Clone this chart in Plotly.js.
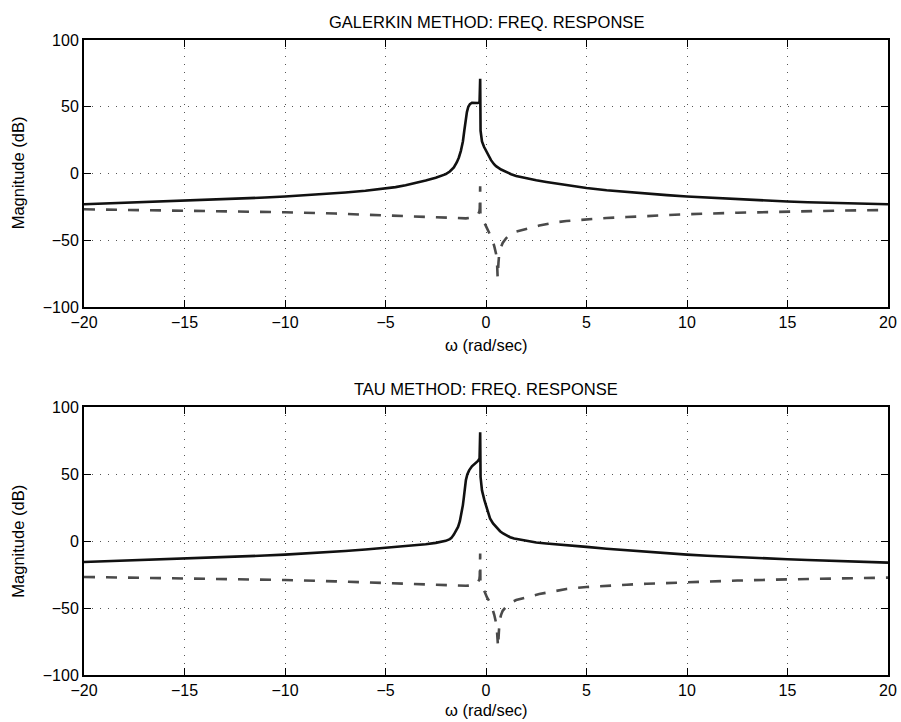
<!DOCTYPE html>
<html>
<head>
<meta charset="utf-8">
<script src="https://cdn.plot.ly/plotly-3.0.1.min.js"></script>
<style>html,body{margin:0;padding:0;background:#fff;}#chart{width:901px;height:722px;}</style>
</head>
<body>
<div id="chart"></div>
<script>
// Galerkin method
const galSolidW = [-20,-19,-18,-17,-16,-15,-14,-13,-12,-11,-10,-9,-8,-7,-6,-5,-4.5,-4,-3.5,-3,-2.5,-2,-1.8,-1.6,-1.45,-1.35,-1.25,-1.15,-1.08,-1.02,-0.95,-0.88,-0.8,-0.7,-0.6,-0.5,-0.4,-0.32,-0.30,-0.29,-0.27,-0.24,-0.2,-0.1,0,0.1,0.25,0.4,0.5,0.75,1,1.25,1.5,2,2.5,3,3.5,4,4.5,5,6,7,8,9,10,11,12,13,14,15,16,17,18,19,20];
const galSolidDB = [-23,-22.5,-22,-21.5,-21,-20.5,-19.9,-19.3,-18.7,-18,-17.2,-16.3,-15.3,-14.2,-12.9,-11.3,-10.2,-8.8,-7.2,-5.3,-3.2,-0.5,1.5,4.5,8.5,12,17,24,32,40,46,50,52,53,53,52.6,52.8,53.5,71,71,32,27,24,20,17,14,10,7,5.5,3,1,-0.5,-1.8,-3.6,-5.1,-6.4,-7.6,-8.7,-9.8,-10.9,-12.6,-13.9,-15.1,-16.2,-17.2,-18,-18.9,-19.6,-20.3,-21,-21.5,-22,-22.4,-22.7,-23];
const galDashW = [-20,-17.5,-15,-12.5,-10,-7.5,-5,-4,-3,-2,-1.5,-1,-0.7,-0.5,-0.4,-0.33,-0.31,-0.30,-0.29,-0.28,-0.2,-0.08,0.05,0.17,0.3,0.41,0.5,0.55,0.58,0.62,0.66,0.75,0.83,1.0,1.16,1.5,1.82,2.25,2.65,3.48,4,5,6,7,8,10,12.5,15,17.5,20];
const galDashDB = [-26.8,-27.3,-27.8,-28.4,-29,-30,-31.3,-32,-32.7,-33.3,-33.6,-33.6,-33,-32,-30.7,-28.5,-26,-9.5,-9.5,-30,-33,-37,-41,-44.4,-49,-54.4,-60,-67,-78,-67,-59.4,-55,-52,-48.5,-46.2,-43.5,-42,-40.5,-39,-36.5,-35.6,-34.3,-33.3,-32.6,-31.8,-30.5,-29.4,-28.5,-27.8,-27.3];

// Tau method
const tauSolidW = [-20,-19,-18,-17,-16,-15,-14,-13,-12,-11,-10,-9,-8,-7,-6,-5,-4,-3,-2.5,-2,-1.8,-1.72,-1.6,-1.5,-1.39,-1.3,-1.22,-1.15,-1.1,-1.05,-1.0,-0.93,-0.84,-0.7,-0.55,-0.4,-0.32,-0.30,-0.29,-0.27,-0.2,-0.08,0.1,0.2,0.35,0.5,0.7,0.85,1,1.2,1.4,1.66,2,2.5,3,3.68,4,5,6,7,8,9,10,11,12,13,14,15,16,17,18,19,20];
const tauSolidDB = [-15.5,-15,-14.6,-14.1,-13.6,-13.2,-12.6,-12,-11.3,-10.7,-10,-9.2,-8.3,-7.3,-6.2,-5,-3.7,-2.2,-1.2,0.3,1.6,2.5,5,8,10.7,15,20.7,27,33,40,45.7,50,53,56,58,60,62,81.5,81.5,48,38,30.7,20.7,17,13.3,10.5,7.5,5.8,4.5,3,2,1.2,0.2,-1,-1.7,-2.4,-2.8,-4.2,-5.6,-6.8,-8,-9,-10,-10.8,-11.6,-12.3,-12.9,-13.5,-14,-14.6,-15.1,-15.5,-16];
const tauDashW = [-20,-17.5,-15,-12.5,-10,-7.5,-5,-4,-3,-2,-1.5,-1,-0.7,-0.5,-0.4,-0.33,-0.31,-0.30,-0.29,-0.28,-0.2,-0.08,0.05,0.17,0.3,0.41,0.5,0.55,0.6,0.64,0.68,0.75,0.83,1.0,1.16,1.5,1.82,2.25,2.65,3.48,4,5,6,7,8,10,12.5,15,17.5,20];
const tauDashDB = [-26.7,-27.2,-27.7,-28.3,-29,-30,-31.2,-31.8,-32.4,-33,-33.3,-33.3,-33,-32,-30.5,-28.5,-26,-9.2,-9.2,-30,-33,-38,-42,-45,-49.5,-55,-61,-68,-79,-68,-59,-55,-52,-49,-46.5,-44,-42.5,-41,-39.5,-37,-35.7,-34.2,-33.2,-32.5,-31.8,-30.5,-29.4,-28.5,-27.8,-27.2];

const xTicks = [-20,-15,-10,-5,0,5,10,15,20];
const yTicks = [-100,-50,0,50,100];
const titles = ['GALERKIN METHOD: FREQ. RESPONSE','TAU METHOD: FREQ. RESPONSE'];
const xLabel = 'ω (rad/sec)';
const yLabel = 'Magnitude (dB)';

const FONT = 'Liberation Sans, Arial, Helvetica, sans-serif';
const solidStyle = {color:'#111', width:2.6};
const dashStyle = {color:'#4a4a4a', width:2.6, dash:'11px,11px'};

const traces = [
  {x:galSolidW, y:galSolidDB, xaxis:'x', yaxis:'y', mode:'lines', line:solidStyle},
  {x:galDashW, y:galDashDB, xaxis:'x', yaxis:'y', mode:'lines', line:dashStyle},
  {x:tauSolidW, y:tauSolidDB, xaxis:'x2', yaxis:'y2', mode:'lines', line:solidStyle},
  {x:tauDashW, y:tauDashDB, xaxis:'x2', yaxis:'y2', mode:'lines', line:dashStyle}
];

function xa(anchor){
  return {anchor:anchor, range:[-20,20], tickvals:xTicks, ticktext:xTicks.map(v=>v<0?'\u2212'+(-v):String(v)),
    ticks:'inside', ticklen:7, tickwidth:1, tickcolor:'#000', mirror:'allticks', showline:true, linecolor:'#000', linewidth:2,
    showgrid:true, gridcolor:'#555', gridwidth:1, griddash:'1px,7px', zeroline:false,
    tickfont:{family:FONT, size:16, color:'#000'}, fixedrange:true};
}
function ya(anchor, domain){
  return {anchor:anchor, domain:domain, range:[-100,100], tickvals:yTicks, ticktext:yTicks.map(v=>v<0?'\u2212'+(-v):String(v)),
    ticks:'inside', ticklen:7, tickwidth:1, tickcolor:'#000', mirror:'allticks', showline:true, linecolor:'#000', linewidth:2,
    showgrid:true, gridcolor:'#555', gridwidth:1, griddash:'1px,7px', zeroline:false,
    tickfont:{family:FONT, size:16, color:'#000'}, fixedrange:true};
}

const ann = (text, x, y, extra) => Object.assign({text:text, x:x, y:y, xref:'paper', yref:'paper', showarrow:false,
  font:{family:FONT, size:16.5, color:'#000'}, xanchor:'center', yanchor:'middle'}, extra||{});

const layout = {
  width:901, height:722,
  margin:{l:84, r:13, t:40, b:47},
  paper_bgcolor:'#fff', plot_bgcolor:'#fff',
  showlegend:false,
  xaxis:xa('y'), yaxis:ya('x',[0.5795,1]),
  xaxis2:xa('y2'), yaxis2:ya('x2',[0,0.4213]),
  annotations:[
    ann(titles[0], 0.5, 1, {yshift:18}),
    ann(xLabel, 0.5, 0.5795, {yshift:-38}),
    ann(yLabel, 0, 0.79, {xshift:-66, textangle:-90}),
    ann(titles[1], 0.5, 0.4213, {yshift:18}),
    ann(xLabel, 0.5, 0, {yshift:-35}),
    ann(yLabel, 0, 0.21, {xshift:-66, textangle:-90})
  ]
};

Plotly.newPlot('chart', traces, layout, {staticPlot:true, displayModeBar:false});
</script>
</body>
</html>
